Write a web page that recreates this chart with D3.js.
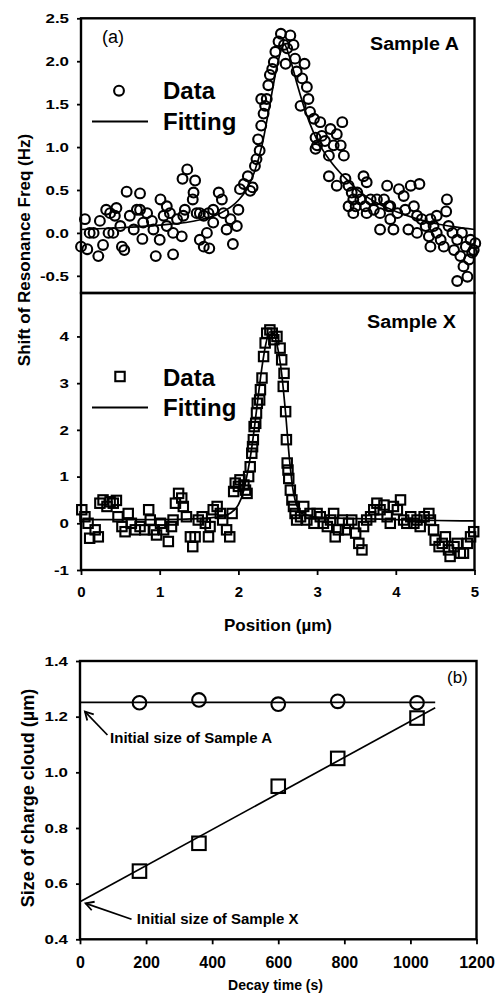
<!DOCTYPE html>
<meta charset="utf-8">
<style>
body { margin: 0; background: #fff; }
svg { display: block; font-family: "Liberation Sans", Arial, Helvetica, sans-serif; }
.frame { fill: none; stroke: #000; stroke-width: 2.4px; }
.axis path { stroke: none; }
.axis line { stroke: #000; stroke-width: 1.8px; }
.axis text { font-weight: bold; fill: #000; }
.fit { fill: none; stroke: #000; stroke-width: 1.7px; }
.mark { fill: none; stroke: #000; stroke-width: 2.1px; }
.lbl { font-weight: bold; fill: #000; }
</style>
<svg width="498" height="993"></svg>
<script src="https://cdn.jsdelivr.net/npm/d3@7/dist/d3.min.js"></script>
<script>

// panel (a), Sample A: [position um, shift Hz]
var sampleA = [
  [0.05,0.16],[0.00,-0.16],[0.08,-0.19],[0.16,0.00],[0.22,-0.27],[0.24,0.14],[0.28,-0.14],[0.32,0.27],
  [0.35,0.00],[0.41,0.00],[0.43,0.20],[0.45,0.29],[0.50,0.08],[0.52,-0.16],[0.55,-0.20],[0.58,0.48],
  [0.62,0.20],[0.67,0.04],[0.71,0.27],[0.75,0.46],[0.78,-0.07],[0.79,0.12],[0.84,0.23],[0.90,0.14],
  [0.92,0.04],[0.95,-0.27],[1.00,-0.08],[1.01,0.39],[1.05,0.20],[1.09,0.08],[1.13,0.23],[1.17,-0.25],
  [1.17,0.00],[1.22,0.16],[1.28,-0.04],[1.30,0.20],[1.32,0.27],[1.35,0.74],[1.29,0.63],[1.45,0.61],
  [1.42,0.39],[1.43,0.47],[1.47,0.23],[1.51,-0.08],[1.56,-0.16],[1.60,0.00],[1.63,-0.18],[1.56,0.20],
  [1.62,0.23],[1.68,0.27],[1.75,0.47],[1.79,0.39],[1.81,0.23],[1.85,0.04],[1.90,0.16],[1.93,-0.13],
  [1.98,0.08],[2.00,0.27],[2.02,0.51],[2.07,0.57],[2.12,0.66],[2.15,0.49],[2.18,0.53],[2.21,0.78],
  [2.23,0.86],[2.27,0.96],[2.25,1.09],[2.29,1.25],[2.32,1.39],[2.34,1.48],[2.29,1.56],[2.36,1.56],
  [2.38,1.72],[2.40,1.84],[2.43,1.91],[2.45,1.99],[2.47,2.11],[2.51,2.23],[2.54,2.32],[2.58,2.19],
  [2.60,1.97],[2.62,2.15],[2.66,2.30],[2.70,2.19],[2.72,2.03],[2.74,1.88],[2.84,1.97],[2.79,1.48],
  [2.81,1.80],[2.87,1.70],[2.89,1.56],[2.91,1.41],[2.96,1.33],[2.98,1.11],[3.00,1.02],[3.04,1.29],
  [3.06,1.13],[3.10,1.07],[2.98,0.98],[3.15,0.90],[3.17,1.21],[3.21,1.02],[3.25,1.15],[3.30,1.02],
  [3.32,1.29],[3.34,0.90],[3.15,0.66],[3.25,0.55],[3.36,0.63],[3.40,0.55],[3.44,0.47],[3.46,0.39],
  [3.49,0.31],[3.51,0.47],[3.55,0.39],[3.59,0.66],[3.61,0.31],[3.63,0.59],[3.68,0.39],[3.72,0.27],
  [3.76,0.39],[3.80,0.23],[3.85,0.39],[3.89,0.55],[3.91,0.31],[3.93,0.16],[3.97,0.04],[4.02,0.23],
  [4.04,0.51],[4.10,0.43],[4.12,0.27],[4.16,0.04],[4.19,0.55],[4.23,0.31],[4.27,0.20],[4.30,0.57],
  [4.33,0.16],[4.38,0.08],[4.42,-0.04],[4.44,-0.16],[4.48,0.08],[4.52,0.00],[4.57,-0.08],[4.61,-0.16],
  [4.65,0.39],[4.67,0.08],[4.72,0.00],[4.74,-0.20],[4.78,-0.08],[4.82,-0.27],[4.84,0.00],[4.86,-0.39],
  [4.89,-0.16],[4.91,-0.51],[4.93,-0.31],[4.95,-0.08],[4.97,-0.23],[4.99,-0.20],[5.01,-0.12],[4.78,-0.56],
  [4.64,0.25],[4.52,0.20],[4.44,0.16],[4.27,0.00],[3.93,0.31],[3.80,0.04],[3.63,0.23],[3.46,0.23],
  [3.40,0.31],[1.51,0.23],[1.68,0.12],[1.09,0.31],[0.75,0.27],[0.37,0.23],[0.11,0.00]
];
var fitA = [
  [0,0.04],[0.5,0.06],[1.0,0.09],[1.5,0.15],[1.75,0.22],[2.0,0.38],[2.1,0.5],[2.2,0.7],[2.3,1.02],
  [2.4,1.5],[2.5,1.98],[2.58,2.2],[2.65,2.05],[2.75,1.72],[2.85,1.42],[2.95,1.18],[3.05,1.0],[3.2,0.8],
  [3.4,0.6],[3.6,0.44],[3.8,0.33],[4.0,0.25],[4.25,0.17],[4.5,0.11],[4.75,0.07],[5.0,0.04]
];

// panel (a), Sample X
var sampleX = [
  [0.01,0.29],[0.05,0.14],[0.09,0.00],[0.11,-0.32],[0.18,-0.14],[0.22,-0.29],[0.24,0.43],[0.28,0.50],
  [0.33,0.36],[0.37,0.46],[0.41,0.43],[0.45,0.49],[0.47,0.14],[0.52,-0.07],[0.56,-0.18],[0.60,0.21],
  [0.64,0.00],[0.69,-0.14],[0.75,-0.07],[0.81,-0.14],[0.86,0.29],[0.88,0.07],[0.92,-0.14],[0.96,-0.25],
  [1.01,0.00],[1.05,-0.14],[1.11,-0.39],[1.15,-0.07],[1.17,0.07],[1.20,0.43],[1.24,0.64],[1.28,0.54],
  [1.30,0.36],[1.34,0.14],[1.39,-0.29],[1.42,-0.50],[1.45,-0.29],[1.49,0.07],[1.54,0.14],[1.58,0.00],
  [1.62,-0.29],[1.64,-0.07],[1.68,0.29],[1.73,0.36],[1.77,0.21],[1.80,0.07],[1.85,-0.14],[1.89,-0.29],
  [1.92,0.21],[1.94,0.68],[1.96,0.86],[2.00,0.79],[2.02,0.93],[2.09,0.71],[2.11,0.64],[2.13,1.00],
  [2.15,1.21],[2.17,1.50],[2.19,1.79],[2.20,2.07],[2.23,2.36],[2.27,2.64],[2.30,3.11],[2.32,3.57],
  [2.34,3.86],[2.36,4.07],[2.40,4.14],[2.43,4.07],[2.45,3.93],[2.49,4.00],[2.53,3.75],[2.55,3.50],
  [2.57,2.93],[2.60,2.39],[2.61,1.79],[2.62,1.29],[2.64,0.96],[2.66,0.71],[2.68,0.50],[2.70,0.36],
  [2.72,0.21],[2.74,0.07],[2.79,0.14],[2.83,0.36],[2.87,0.07],[2.91,0.21],[2.96,0.00],[3.00,0.21],
  [3.04,0.14],[3.08,0.00],[3.13,-0.07],[3.17,0.07],[3.21,0.21],[3.23,-0.29],[3.27,-0.14],[3.32,0.07],
  [3.36,-0.14],[3.40,0.00],[3.44,0.07],[3.49,-0.21],[3.53,-0.43],[3.57,-0.57],[3.59,-0.07],[3.63,0.07],
  [3.68,0.14],[3.72,0.29],[3.76,0.43],[3.80,0.29],[3.85,0.39],[3.89,0.14],[3.93,0.00],[3.97,0.36],
  [4.02,0.29],[4.06,0.50],[4.10,0.07],[4.14,0.00],[4.19,0.14],[4.23,0.00],[4.27,0.07],[4.31,-0.07],
  [4.36,0.14],[4.42,0.21],[4.44,0.07],[4.48,-0.14],[4.50,-0.36],[4.55,-0.50],[4.59,-0.43],[4.63,-0.29],
  [4.67,-0.57],[4.69,-0.71],[4.74,-0.50],[4.78,-0.43],[4.82,-0.64],[4.86,-0.64],[4.91,-0.43],[4.95,-0.29],
  [4.99,-0.18],[2.07,0.82],[2.18,1.64],[2.22,2.14],[2.24,2.57],[2.28,2.86],[2.58,3.21],[2.63,1.14]
];
var fitX = [
  [0,0.08],[0.5,0.08],[1.0,0.08],[1.5,0.1],[1.8,0.15],[1.9,0.22],[2.0,0.4],[2.05,0.6],[2.1,0.95],
  [2.15,1.4],[2.2,2.0],[2.25,2.7],[2.3,3.35],[2.35,3.85],[2.4,4.1],[2.45,4.05],[2.5,3.75],[2.55,3.2],
  [2.6,2.35],[2.65,1.35],[2.7,0.65],[2.75,0.35],[2.8,0.22],[2.9,0.16],[3.0,0.13],[3.5,0.1],[4.0,0.08],
  [4.5,0.06],[5.0,0.05]
];

// panel (b)
var decayTime = [180, 360, 600, 780, 1020];
var sizeA = [1.25, 1.26, 1.245, 1.255, 1.25];
var sizeX = [0.645, 0.745, 0.95, 1.05, 1.195];
var lineA = [[0, 1.251], [1075, 1.251]];
var lineX = [[0, 0.535], [1075, 1.232]];

var ticksA = [-0.5, 0, 0.5, 1, 1.5, 2, 2.5];
var ticksX = [-1, 0, 1, 2, 3, 4];
var ticksPos = [0, 1, 2, 3, 4, 5];
var ticksTime = [0, 200, 400, 600, 800, 1000, 1200];
var ticksSize = [0.4, 0.6, 0.8, 1.0, 1.2, 1.4];

var svg = d3.select("svg");
svg.append("rect").attr("width", 498).attr("height", 993).attr("fill", "#fff");

var x = d3.scaleLinear().domain([0, 5]).range([81, 474.5]);
var yA = d3.scaleLinear().domain([-0.7, 2.5]).range([293, 18.3]);
var yX = d3.scaleLinear().domain([-1, 4.93]).range([570, 293]);
var t = d3.scaleLinear().domain([0, 1200]).range([80, 476.5]);
var s = d3.scaleLinear().domain([0.4, 1.4]).range([939.3, 661]);

function stretch(sel, k) {
  sel.each(function() {
    var L = this.getComputedTextLength();
    this.setAttribute("textLength", L * k);
    this.setAttribute("lengthAdjust", "spacingAndGlyphs");
  });
}

function frame(xs, ys) {
  svg.append("rect").attr("class", "frame")
    .attr("x", xs.range()[0]).attr("y", ys.range()[1])
    .attr("width", xs.range()[1] - xs.range()[0])
    .attr("height", ys.range()[0] - ys.range()[1]);
}

function leftAxis(ys, ticks, fmt, x0) {
  var g = svg.append("g").attr("class", "axis")
    .attr("transform", "translate(" + x0 + ",0)")
    .call(d3.axisLeft(ys).tickValues(ticks).tickFormat(fmt).tickSize(4).tickSizeOuter(0).tickPadding(8));
  g.selectAll("text").style("font-size", "13px");
  stretch(g.selectAll("text"), 1.3);
}

function bottomAxis(xs, ticks, y0, fs, pad) {
  var g = svg.append("g").attr("class", "axis")
    .attr("transform", "translate(0," + y0 + ")")
    .call(d3.axisBottom(xs).tickValues(ticks).tickFormat(d3.format("d")).tickSize(5).tickSizeOuter(0).tickPadding(pad));
  g.selectAll("text").style("font-size", fs + "px");
}

var line = d3.line().curve(d3.curveMonotoneX);

// ---- Sample A ----
leftAxis(yA, ticksA, function(d) { return d.toFixed(1); }, 81);
svg.append("path").attr("class", "fit")
  .attr("d", line(fitA.map(function(d) { return [x(d[0]), yA(d[1])]; })));
svg.append("g").selectAll("circle").data(sampleA).enter().append("circle")
  .attr("class", "mark").attr("r", 4.9)
  .attr("cx", function(d) { return x(d[0]); })
  .attr("cy", function(d) { return yA(d[1]); });
frame(x, yA);

// ---- Sample X ----
leftAxis(yX, ticksX, function(d) { return String(d); }, 81);
bottomAxis(x, ticksPos, 570, 15, 11);
svg.append("path").attr("class", "fit")
  .attr("d", line(fitX.map(function(d) { return [x(d[0]), yX(d[1])]; })));
svg.append("g").selectAll("rect").data(sampleX).enter().append("rect")
  .attr("class", "mark").attr("width", 9.4).attr("height", 9.4)
  .attr("x", function(d) { return x(d[0]) - 4.7; })
  .attr("y", function(d) { return yX(d[1]) - 4.7; });
frame(x, yX);

// texts panel (a)
svg.append("text").attr("x", 102).attr("y", 43).style("font-size", "18px").text("(a)");
svg.append("text").attr("class", "lbl").attr("x", 370).attr("y", 49.5).style("font-size", "18px")
  .attr("textLength", 89).attr("lengthAdjust", "spacingAndGlyphs").text("Sample A");
svg.append("text").attr("class", "lbl").attr("x", 367).attr("y", 328).style("font-size", "18px")
  .attr("textLength", 89).attr("lengthAdjust", "spacingAndGlyphs").text("Sample X");

// legends
function legend(y1, y2, sym) {
  if (sym === "circle") {
    svg.append("circle").attr("class", "mark").attr("cx", 119).attr("cy", y1 - 8.6).attr("r", 4.9);
  } else {
    svg.append("rect").attr("class", "mark").attr("x", 115.3).attr("y", y1 - 13.7).attr("width", 9.4).attr("height", 9.4);
  }
  svg.append("text").attr("class", "lbl").attr("x", 163).attr("y", y1).style("font-size", "24px").text("Data");
  svg.append("line").attr("x1", 92).attr("x2", 148).attr("y1", y2 - 8).attr("y2", y2 - 8)
    .attr("stroke", "#000").attr("stroke-width", 1.8);
  svg.append("text").attr("class", "lbl").attr("x", 163).attr("y", y2).style("font-size", "24px").text("Fitting");
}
legend(99.3, 129.5, "circle");
legend(385.5, 415.5, "square");

svg.append("text").attr("class", "lbl").attr("transform", "translate(30,250) rotate(-90)")
  .attr("text-anchor", "middle").style("font-size", "17px").text("Shift of Resonance Freq (Hz)");
svg.append("text").attr("class", "lbl").attr("x", 278).attr("y", 631)
  .attr("text-anchor", "middle").style("font-size", "17px").text("Position (\u00b5m)");

// ---- panel (b) ----
leftAxis(s, ticksSize, function(d) { return d.toFixed(1); }, 80);
bottomAxis(t, ticksTime, 939.3, 16, 12);

svg.append("path").attr("class", "fit").attr("d", line(lineA.map(function(d) { return [t(d[0]), s(d[1])]; })));
svg.append("path").attr("class", "fit").attr("d", line(lineX.map(function(d) { return [t(d[0]), s(d[1])]; })));

svg.append("g").selectAll("circle").data(decayTime).enter().append("circle")
  .attr("class", "mark").attr("r", 6.8)
  .attr("cx", function(d) { return t(d); })
  .attr("cy", function(d, i) { return s(sizeA[i]); });
svg.append("g").selectAll("rect").data(decayTime).enter().append("rect")
  .attr("class", "mark").attr("width", 13.5).attr("height", 13.5)
  .attr("x", function(d) { return t(d) - 6.75; })
  .attr("y", function(d, i) { return s(sizeX[i]) - 6.75; });
frame(t, s);

// annotations with arrows
svg.append("defs").append("marker").attr("id", "arr")
  .attr("viewBox", "-10 -6 12 12").attr("markerWidth", 12).attr("markerHeight", 12)
  .attr("markerUnits", "userSpaceOnUse").attr("refX", 0).attr("refY", 0).attr("orient", "auto")
  .append("path").attr("d", "M-8,-4.5L0,0L-8,4.5").attr("fill", "none").attr("stroke", "#000").attr("stroke-width", 1.8);

var notes = [
  {text: "Initial size of Sample A", tip: [15, 1.218], tail: [83, 1.134], at: [91, 1.105]},
  {text: "Initial size of Sample X", tip: [17, 0.529], tail: [156, 0.472], at: [172, 0.455]}
];
notes.forEach(function(n) {
  svg.append("line").attr("x1", t(n.tail[0])).attr("y1", s(n.tail[1]))
    .attr("x2", t(n.tip[0])).attr("y2", s(n.tip[1]))
    .attr("stroke", "#000").attr("stroke-width", 1.7).attr("marker-end", "url(#arr)");
  svg.append("text").attr("class", "lbl").attr("x", t(n.at[0])).attr("y", s(n.at[1]))
    .style("font-size", "15px").text(n.text);
});

svg.append("text").attr("x", 447).attr("y", 683).style("font-size", "17px").text("(b)");
svg.append("text").attr("class", "lbl").attr("transform", "translate(33.5,798) rotate(-90)")
  .attr("text-anchor", "middle").style("font-size", "18px").text("Size of charge cloud (\u00b5m)");
svg.append("text").attr("class", "lbl").attr("x", 275.5).attr("y", 990)
  .attr("text-anchor", "middle").style("font-size", "14px").text("Decay time (s)");

</script>
